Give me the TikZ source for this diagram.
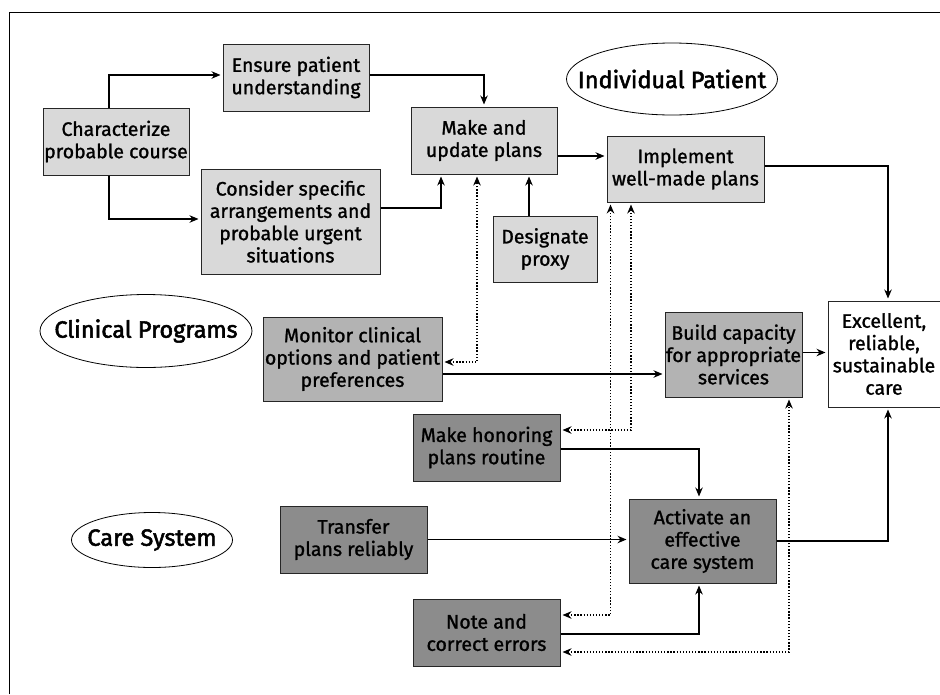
\documentclass[tikz,border=0pt]{standalone}
\usepackage{fontspec}
\setmainfont{Fira Sans}[FakeBold=1.2]
\newfontfamily\ovalfont{Fira Sans}[FakeBold=2.2]
\usetikzlibrary{arrows.meta,shapes.geometric}
\definecolor{lightfill}{HTML}{D9D9D9}
\definecolor{midfill}{HTML}{B3B3B3}
\definecolor{darkfill}{HTML}{8C8C8C}
\definecolor{edge}{HTML}{262626}

\begin{document}
\begin{tikzpicture}[x=1pt,y=-1pt,
    box/.style={draw=edge, line width=1pt, align=center, inner sep=0pt, font=\fontsize{19.5}{22.3}\selectfont},
    lightbox/.style={box, fill=lightfill},
    midbox/.style={box, fill=midfill},
    darkbox/.style={box, fill=darkfill},
    scopelabel/.style={inner sep=0pt, font=\ovalfont\fontsize{23.5}{28}\selectfont},
    flow/.style={line width=1.1pt, shorten >=2pt, -{Stealth[length=9pt,width=7.5pt]}},
    feedback/.style={line width=1.3pt, dash pattern=on 1.3pt off 1.8pt, shorten >=2pt, shorten <=2pt, {Stealth[length=9pt,width=7.5pt]}-{Stealth[length=9pt,width=7.5pt]}}]
        \useasboundingbox (0,0) rectangle (940,694);
        % Frame
        \draw[line width=1pt] (9,694) -- (9,12) -- (940,12);

        % Individual patient
        \node[scopelabel] (indiv) at (672,79) {Individual Patient};
        \draw[line width=0.8pt] (indiv.center) ellipse [x radius=105.5, y radius=36];
        \node[lightbox, minimum width=146, minimum height=67] (charact) at (116,141.5) {Characterize\\probable course};
        \node[lightbox, minimum width=146, minimum height=67] (ensure) at (296,77.5) {Ensure patient\\understanding};
        \node[lightbox, minimum width=179, minimum height=105] (consider) at (290.5,221.5) {Consider specific\\arrangements and\\probable urgent\\situations};
        \node[lightbox, minimum width=146, minimum height=67] (make) at (484,140.5) {Make and\\update plans};
        \node[lightbox, minimum width=104, minimum height=66] (proxy) at (545,249) {Designate\\proxy};
        \node[lightbox, minimum width=157, minimum height=66] (implement) at (685.5,169) {Implement\\well-made plans};
        \node[box, fill=white, minimum width=112, minimum height=106] (excellent) at (884,354) {Excellent,\\reliable,\\sustainable\\care};

        % Clinical programs
        \node[scopelabel] (clinical) at (146,331) {Clinical Programs};
        \draw[line width=0.8pt] (clinical.center) ellipse [x radius=106, y radius=36.5];
        \node[midbox, minimum width=179, minimum height=84] (monitor) at (352.5,359) {Monitor clinical\\options and patient\\preferences};
        \node[midbox, minimum width=137, minimum height=85] (build) at (733.5,354.5) {Build capacity\\for appropriate\\services};

        % Care system
        \node[scopelabel] (caresys) at (152,540) {Care System};
        \draw[line width=0.8pt] (caresys.center) ellipse [x radius=80.5, y radius=27.5];
        \node[darkbox, minimum width=147, minimum height=67] (honor) at (486.5,447.5) {Make honoring\\plans routine};
        \node[darkbox, minimum width=147, minimum height=67] (transfer) at (353.5,539.5) {Transfer\\plans reliably};
        \node[darkbox, minimum width=147, minimum height=84] (activate) at (702.5,541) {Activate an\\effective\\care system};
        \node[darkbox, minimum width=147, minimum height=67] (note) at (486.5,632.5) {Note and\\correct errors};

        % Planning flow
        \draw[flow] ([xshift=-7pt]charact.north) |- ([yshift=2.5pt]ensure.west);
        \draw[flow] ([xshift=-7pt]charact.south) |- ([yshift=2.5pt]consider.west);
        \draw[flow] ([yshift=2.5pt]ensure.east) -| (make.north);
        \draw[flow] ([yshift=13.5pt]consider.east) -| ([xshift=-43pt]make.south);
        \draw[flow] ([xshift=-16pt]proxy.north) -- ([xshift=-16pt]proxy.north |- make.south);
        \draw[flow] ([yshift=-15.5pt]make.east) -- ([yshift=-15.5pt]make.east -| implement.west);
        \draw[flow] ([yshift=3pt]implement.east) -| ([xshift=4pt]excellent.north);

        % Programs and system flow
        \draw[flow] ([yshift=-15pt]monitor.east) -- ([yshift=-15pt]monitor.east -| build.west);
        \draw[flow] ([yshift=2pt]build.east) -- ([yshift=2pt]build.east -| excellent.west);
        \draw[flow] ([yshift=-1.5pt]honor.east) -| ([xshift=-3.5pt]activate.north);
        \draw[flow] (transfer.east) -- (transfer.east -| activate.west);
        \draw[flow] ([yshift=-1.5pt]note.east) -| ([xshift=-3.5pt]activate.south);
        \draw[flow] (activate.east) -| ([xshift=4pt]excellent.south);

        % Feedback (dotted)
        \draw[feedback] ([yshift=-3pt]monitor.east) -| ([xshift=-7pt]make.south);
        \draw[feedback] ([yshift=17.5pt]note.east) -| ([xshift=-75pt]implement.south);
        \draw[feedback] ([yshift=17.5pt]honor.east) -| ([xshift=-54.5pt]implement.south);
        \draw[feedback] ([yshift=-19.5pt]note.east) -| ([xshift=55.5pt]build.south);
    \end{tikzpicture}
\end{document}
